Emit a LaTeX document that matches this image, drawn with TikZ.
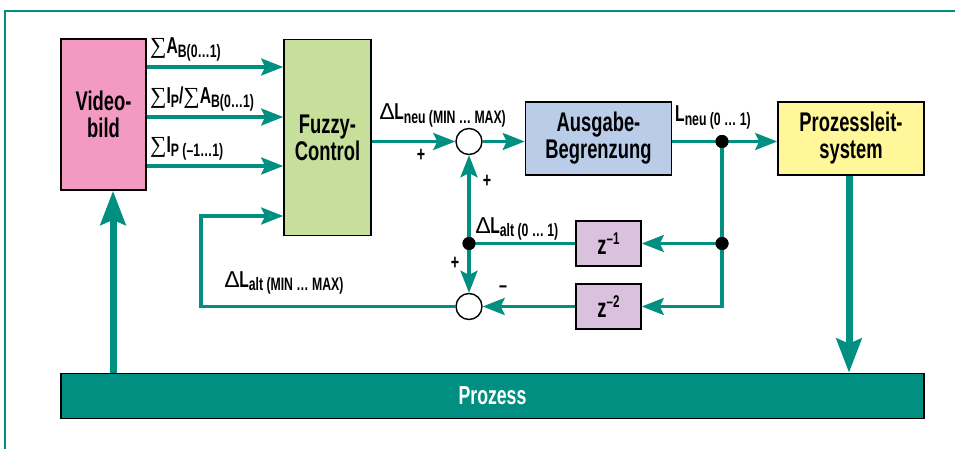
\documentclass[tikz,border=0pt]{standalone}
\usepackage{fontspec}
\setmainfont{Liberation Sans}[FakeStretch=0.68]
\newfontfamily\symserif{Liberation Serif}
\newfontfamily\symsans{Liberation Sans}
\usetikzlibrary{arrows.meta,calc}
\definecolor{tealc}{RGB}{0,143,128}
\definecolor{pinkc}{RGB}{243,154,194}
\definecolor{greenc}{RGB}{198,224,155}
\definecolor{bluec}{RGB}{185,205,233}
\definecolor{yellowc}{RGB}{255,247,153}
\definecolor{purplec}{RGB}{218,194,223}
\newcommand\sumsym{{\symserif\mdseries\fontsize{23}{23}\selectfont ∑}}
\newcommand\delsym{{\symsans\mdseries ∆}}
\newcommand\mainf{\fontsize{23}{23}\selectfont}
\newcommand\subf[1]{\raisebox{-3.5pt}{\fontsize{18}{18}\selectfont #1}}
\tikzset{
  blockbox/.style={draw=black, line width=1.6pt, inner sep=0pt, align=center,
     font=\fontsize{27}{27}\selectfont\bfseries},
  sumnode/.style={circle, draw=black, line width=1.4pt, fill=white, minimum size=26pt, inner sep=0pt},
  dotnode/.style={circle, fill=black, minimum size=13pt, inner sep=0pt},
  conn/.style={draw=tealc, line width=3.2pt, line join=miter},
  arr/.style={conn, -{Stealth[length=22pt,width=17pt,inset=4pt]}},
  bigarr/.style={draw=tealc, line width=7pt, -{Stealth[length=34pt,width=25pt,inset=5pt]}},
  lab/.style={anchor=base west, inner sep=0pt, font=\bfseries},
  sign/.style={inner sep=0pt, font=\fontsize{21}{21}\selectfont\bfseries},
  zbox/.style={blockbox, fill=purplec, minimum width=65pt, minimum height=45pt, font=\fontsize{27}{27}\selectfont\bfseries},
}
\begin{document}
\begin{tikzpicture}[x=1pt,y=-1pt]
\useasboundingbox (0,0) rectangle (955,449);
% frame
\draw[tealc, line width=2pt] (5,449) -- (5,11) -- (955,11);

% blocks
\node[blockbox, fill=pinkc, minimum width=85pt, minimum height=151pt] (video) at (103.5,114.5) {Video-\\bild};
\node[blockbox, fill=greenc, minimum width=87pt, minimum height=196pt] (fuzzy) at (327.5,137.5) {Fuzzy-\\Control};
\node[blockbox, fill=bluec, minimum width=146pt, minimum height=73pt] (ausg) at (598.5,138.5) {Ausgabe-\\Begrenzung};
\node[blockbox, fill=yellowc, minimum width=146pt, minimum height=73pt] (pls) at (851,138.5) {Prozessleit-\\system};
\node[zbox] (z1) at (608.5,243.5) {z\raisebox{10pt}{\fontsize{17}{17}\selectfont –1}};
\node[zbox] (z2) at (608.5,306.5) {z\raisebox{10pt}{\fontsize{17}{17}\selectfont –2}};
\node[blockbox, fill=tealc, text=white, minimum width=863pt, minimum height=45pt, font=\fontsize{26}{26}\selectfont\bfseries] (proz) at (492.5,396) {Prozess};

% sums and dots
\node[sumnode] (s1) at (469,141.5) {};
\node[sumnode] (s2) at (469,306.5) {};
\node[dotnode] (d1) at (469,243.5) {};
\node[dotnode] (d2) at (722,141.5) {};
\node[dotnode] (d3) at (722,243.5) {};

% helper coordinates
\coordinate (y1) at (0,67);
\coordinate (y2) at (0,117);
\coordinate (y3) at (0,166);
\coordinate (y4) at (0,216);
\coordinate (fb) at (201,0);
\coordinate (tx1) at (113,0);
\coordinate (tx2) at (849,0);

% video -> fuzzy
\draw[arr] (video.east |- y1) -- (fuzzy.west |- y1);
\draw[arr] (video.east |- y2) -- (fuzzy.west |- y2);
\draw[arr] (video.east |- y3) -- (fuzzy.west |- y3);

% main path
\draw[arr] (fuzzy.east |- s1) -- (s1.west);
\draw[arr] (s1.east) -- (ausg.west |- s1);
\draw[conn] (ausg.east |- s1) -- (d2.center);
\draw[arr] (d2.center) -- (pls.west |- s1);

% delay loop
\draw[conn] (d2.center) -- (d3.center);
\draw[arr] (d3.center) -- (z1.east);
\draw[arr] (d3.center) -- (d3 |- z2) -- (z2.east);
\draw[conn] (z1.west) -- (d1.center);
\draw[arr] (d1.center) -- (s1.south);
\draw[arr] (d1.center) -- (s2.north);
\draw[arr] (z2.west) -- (s2.east);
\draw[arr] (s2.west) -- (fb |- s2) -- (fb |- y4) -- (fuzzy.west |- y4);

% redraw dots on top
\node[dotnode] at (d1) {};
\node[dotnode] at (d2) {};
\node[dotnode] at (d3) {};

% thick arrows
\draw[bigarr] (proz.north -| tx1) -- (video.south -| tx1);
\draw[bigarr] (pls.south -| tx2) -- (proz.north -| tx2);

% labels
\node[lab] (l1) at (150,54) {\mainf\sumsym A\subf{B(0…1)}};
\node[lab] (l2) at (150,104) {\mainf\sumsym I\subf{P}/\sumsym A\subf{B(0…1)}};
\node[lab] (l3) at (150,153) {\mainf\sumsym I\subf{P (–1…1)}};
\node[lab] (l4) at (380,120) {\mainf\delsym L\subf{neu (MIN … MAX)}};
\node[lab] (l5) at (675,122) {\mainf L\subf{neu (0 … 1)}};
\node[lab] (l6) at (476,233) {\mainf\delsym L\subf{alt (0 … 1)}};
\node[lab] (l7) at (225,287) {\mainf\delsym L\subf{alt (MIN … MAX)}};

% signs
\node[sign] (p1) at (421,155) {+};
\node[sign] (p2) at (487,181) {+};
\node[sign] (p3) at (455,263) {+};
\node[sign] (m1) at (503,289) {–};
\end{tikzpicture}
\end{document}
